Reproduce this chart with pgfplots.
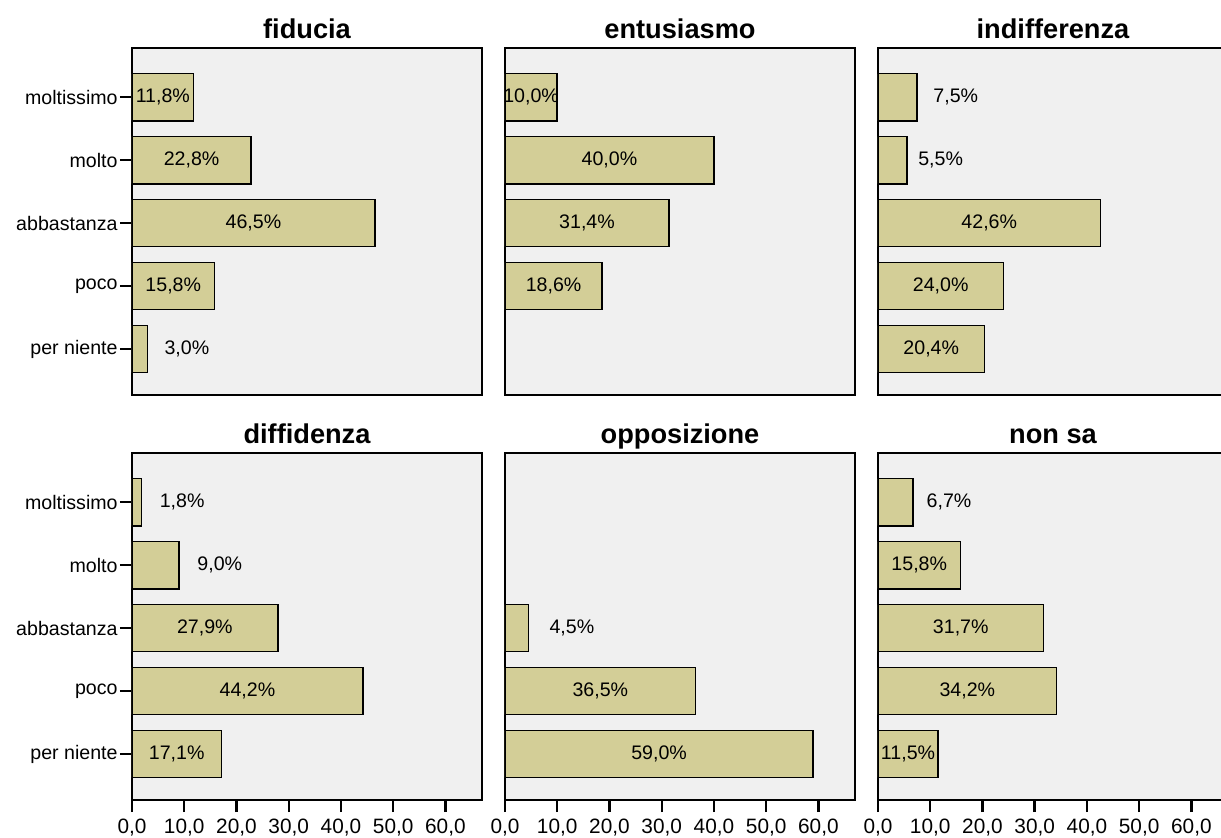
\documentclass[border=0pt]{standalone}
\usepackage{fontspec}
\setmainfont{Liberation Sans}
\usepackage{pgfplots}
\pgfplotsset{compat=1.18}
\usepackage{pgfplotstable}
\usepgfplotslibrary{groupplots}

\definecolor{barcol}{RGB}{211,206,151}
\definecolor{bgcol}{RGB}{240,240,240}

% y: 4 moltissimo, 3 molto, 2 abbastanza, 1 poco, 0 per niente
% v = percentuale, lx = posizione del centro dell'etichetta
\pgfplotstableread{
y v lx
4 11.8 5.9
3 22.8 11.4
2 46.5 23.25
1 15.8 7.9
0 3.0 10.5
}\fiducia
\pgfplotstableread{
y v lx
4 10.0 5.0
3 40.0 20.0
2 31.4 15.7
1 18.6 9.3
}\entusiasmo
\pgfplotstableread{
y v lx
4 7.5 14.9
3 5.5 12.0
2 42.6 21.3
1 24.0 12.0
0 20.4 10.2
}\indifferenza
\pgfplotstableread{
y v lx
4 1.8 9.6
3 9.0 16.8
2 27.9 13.95
1 44.2 22.1
0 17.1 8.55
}\diffidenza
\pgfplotstableread{
y v lx
2 4.5 12.8
1 36.5 18.25
0 59.0 29.5
}\opposizione
\pgfplotstableread{
y v lx
4 6.7 13.6
3 15.8 7.9
2 31.7 15.85
1 34.2 17.1
0 11.5 5.75
}\nonsa

\newcommand{\barre}[1]{%
  \addplot[xbar, bar width=0.75, fill=barcol, draw=black, line width=0.8pt]
    table[x=v, y=y] {#1};
  \addplot[only marks, mark=none, point meta=\thisrow{v},
    nodes near coords={\pgfmathprintnumber{\pgfplotspointmeta}\%},
    every node near coord/.append style={anchor=center, inner sep=0pt,
      font=\fontsize{9.8}{12}\selectfont}]
    table[x=lx, y=y] {#1};
}

\begin{document}
\begin{tikzpicture}
\pgfkeys{/pgf/number format/fixed, /pgf/number format/fixed zerofill,
  /pgf/number format/precision=1, /pgf/number format/use comma,
  /pgf/number format/assume math mode=true}
\begin{groupplot}[
    group style={group size=3 by 2, horizontal sep=11.5pt, vertical sep=29pt},
    scale only axis, width=175pt, height=173.5pt,
    xmin=0, xmax=67, ymin=-0.73, ymax=4.78,
    axis background/.style={fill=bgcol},
    axis line style={line width=0.9pt},
    xtick=\empty, ytick=\empty,
    xtick pos=bottom, ytick pos=left,
    tick align=outside, major tick length=6pt,
    tick style={black, line width=1.2pt},
    minor tick num=0,
    yticklabel style={inner sep=1pt, font=\fontsize{9.8}{12}\selectfont},
    xticklabel style={font=\fontsize{10.4}{12}\selectfont},
    title style={font=\bfseries\fontsize{13.6}{15}\selectfont,
      at={(0.5,1)}, anchor=base, yshift=-1.2pt},
]
\nextgroupplot[title={fiducia}, ytick={0,1,2,3,4},
    yticklabels={per niente,poco,abbastanza,molto,moltissimo}]
\barre{\fiducia}
\nextgroupplot[title={entusiasmo}]
\barre{\entusiasmo}
\nextgroupplot[title={indifferenza}]
\barre{\indifferenza}
\nextgroupplot[title={diffidenza}, ytick={0,1,2,3,4},
    yticklabels={per niente,poco,abbastanza,molto,moltissimo},
    xtick={0,10,...,60}]
\barre{\diffidenza}
\nextgroupplot[title={opposizione}, xtick={0,10,...,60}]
\barre{\opposizione}
\nextgroupplot[title={non sa}, xtick={0,10,...,60}]
\barre{\nonsa}
\end{groupplot}
\pgfresetboundingbox
\useasboundingbox ([shift={(-66pt,24pt)}]group c1r1.north west)
  rectangle ([shift={(544.5pt,-394.5pt)}]group c1r1.north west);
\end{tikzpicture}
\end{document}
